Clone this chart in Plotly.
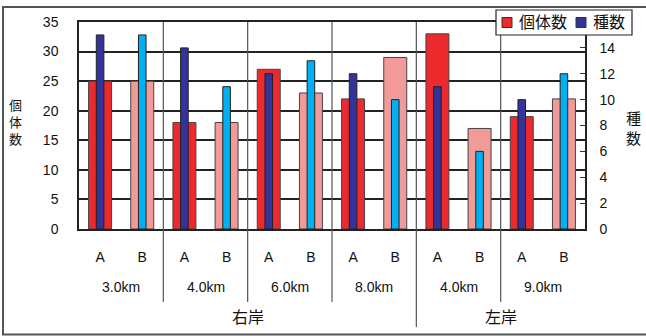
import plotly.graph_objects as go

# ---- data ----
sites = ["A", "B"] * 6
locations = ["3.0km", "4.0km", "6.0km", "8.0km", "4.0km", "9.0km"]
banks = ["右岸", "左岸"]
bank_group_counts = [4, 2]          # number of locations in each bank
individuals = [25, 25, 18, 18, 27, 23, 22, 29, 33, 17, 19, 22]   # 個体数 (left axis)
species = [15, 15, 14, 11, 12, 13, 12, 10, 11, 6, 10, 12]        # 種数 (right axis)
series_names = ["個体数", "種数"]

RED_A, RED_B = "#EC2A2E", "#F29A98"
BLUE_A, BLUE_B = "#333399", "#00B0F0"
FONT = "Liberation Sans, Arial, Noto Sans CJK JP, sans-serif"
TXT = "#111111"

x = list(range(len(sites)))

fig = go.Figure()
fig.add_trace(go.Bar(
    x=x, y=individuals, name=series_names[0], width=0.545, showlegend=False,
    marker=dict(color=[RED_A if s == "A" else RED_B for s in sites],
                line=dict(color="#444444", width=1)),
))
fig.add_trace(go.Bar(
    x=x, y=species, name=series_names[1], width=0.18, yaxis="y2", showlegend=False,
    marker=dict(color=[BLUE_A if s == "A" else BLUE_B for s in sites],
                line=dict(color="#222222", width=1)),
))

# plot area geometry (px) for paper conversions
L, R, T, B = 79, 61, 22, 107
W, H = 646 - L - R, 336 - T - B

def px_x(p):
    return (p - L) / W

def px_y(p):
    return (336 - B - p) / H

shapes = []
annotations = []

# group separators (inside plot and below axis)
n_loc = len(locations)
bank_edges = []
acc = 0
for c in bank_group_counts[:-1]:
    acc += c
    bank_edges.append(acc)
for i in range(1, n_loc):
    xb = 2 * i - 0.5
    y_end = px_y(327) if i in bank_edges else px_y(302)
    shapes.append(dict(type="line", xref="x", yref="paper", x0=xb, x1=xb,
                       y0=y_end, y1=1, line=dict(color="#555555", width=1.2)))

# location labels
for i, loc in enumerate(locations):
    annotations.append(dict(x=2 * i + 0.5, y=px_y(287), xref="x", yref="paper",
                            xanchor="center", yanchor="middle",
                            text=loc, showarrow=False, font=dict(size=14, family=FONT, color=TXT)))

# bank labels
start = 0
for bank, c in zip(banks, bank_group_counts):
    center = (2 * start - 0.5 + 2 * (start + c) - 0.5) / 2
    annotations.append(dict(x=center, y=px_y(317), xref="x", yref="paper",
                            xanchor="center", yanchor="middle",
                            text=bank, showarrow=False, font=dict(size=16, family=FONT, color=TXT)))
    start += c

# axis titles
annotations.append(dict(x=px_x(15), y=px_y(122), xref="paper", yref="paper",
                        xanchor="center", yanchor="middle",
                        text="個<br>体<br>数", showarrow=False,
                        font=dict(size=13, family=FONT, color=TXT)))
annotations.append(dict(x=px_x(633), y=px_y(128), xref="paper", yref="paper",
                        xanchor="center", yanchor="middle",
                        text="種<br>数", showarrow=False,
                        font=dict(size=15, family=FONT, color=TXT)))

# legend (box, swatches, labels)
shapes.append(dict(type="rect", xref="paper", yref="paper",
                   x0=px_x(496), x1=px_x(632), y0=px_y(35), y1=px_y(10),
                   fillcolor="white", line=dict(color="#222222", width=1.2), layer="above"))
legend_items = [(series_names[0], RED_A, 502, 517), (series_names[1], BLUE_A, 576, 591)]
for name, col, sx, tx in legend_items:
    shapes.append(dict(type="rect", xref="paper", yref="paper",
                       x0=px_x(sx), x1=px_x(sx + 10), y0=px_y(27.5), y1=px_y(17.5),
                       fillcolor=col, line=dict(color="#333333", width=1), layer="above"))
    annotations.append(dict(x=px_x(tx), y=px_y(22.5), xref="paper", yref="paper",
                            xanchor="left", yanchor="middle", text=name, showarrow=False,
                            font=dict(size=16, family=FONT, color=TXT)))

# outer frame
shapes.append(dict(type="rect", xref="paper", yref="paper",
                   x0=px_x(3), x1=px_x(650), y0=px_y(334.5), y1=px_y(7),
                   line=dict(color="#555555", width=2), layer="below"))

fig.update_layout(
    width=646, height=336,
    margin=dict(l=L, r=R, t=T, b=B),
    paper_bgcolor="white", plot_bgcolor="white",
    barmode="overlay",
    font=dict(family=FONT, size=14, color=TXT),
    showlegend=False,
    xaxis=dict(range=[-0.5, len(sites) - 0.5], tickmode="array", tickvals=x, ticktext=sites,
               showgrid=False, zeroline=False, showline=True, mirror=True,
               linecolor="#222222", linewidth=1.5, ticks="", ticklabelstandoff=14,
               tickfont=dict(size=14, family=FONT, color=TXT)),
    yaxis=dict(range=[0, 35], dtick=5, showgrid=True, gridcolor="#222222", gridwidth=1.5,
               zeroline=False, showline=True, linecolor="#222222", linewidth=1.5,
               ticks="", ticklabelstandoff=16, tickfont=dict(size=14, family=FONT, color=TXT)),
    yaxis2=dict(range=[0, 16], overlaying="y", side="right", tickmode="array",
                tickvals=[0, 2, 4, 6, 8, 10, 12, 14], showgrid=False, zeroline=False,
                showline=True, linecolor="#222222", linewidth=1.5,
                ticks="inside", ticklen=5, tickcolor="#333333", ticklabelstandoff=10,
                tickfont=dict(size=14, family=FONT, color=TXT)),
    shapes=shapes, annotations=annotations,
)

fig.write_html("out.html")
